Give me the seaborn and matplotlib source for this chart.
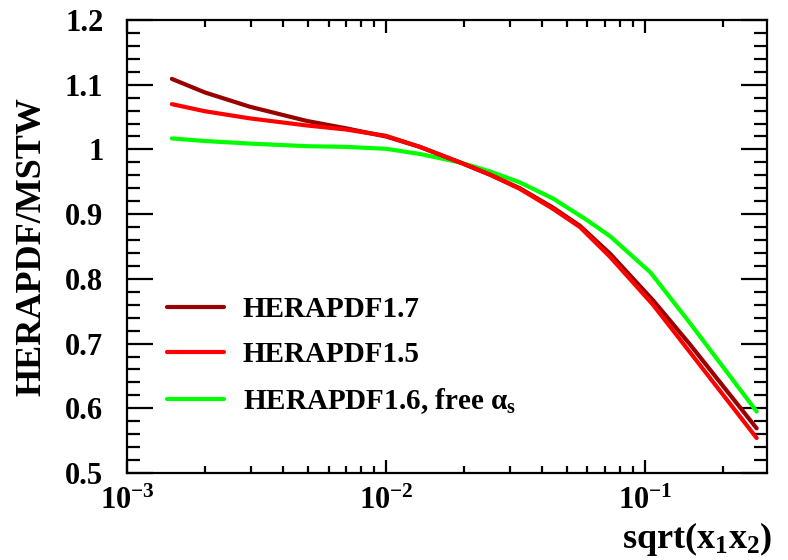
import matplotlib
matplotlib.use("Agg")
import matplotlib.pyplot as plt
import matplotlib.ticker as mticker
import numpy as np
import pandas as pd
import seaborn as sns

## values
x_h17 = [0.00149, 0.0020, 0.00298, 0.00495, 0.00694, 0.0100, 0.0135, 0.0193,
         0.0252, 0.0329, 0.0442, 0.0561, 0.0733, 0.1074, 0.149, 0.270]
y_h17 = [1.109, 1.088, 1.066, 1.044, 1.033, 1.020, 1.004, 0.980,
         0.961, 0.940, 0.910, 0.882, 0.839, 0.767, 0.699, 0.569]

x_h15 = [0.00149, 0.0020, 0.00298, 0.00495, 0.00694, 0.0100, 0.0135, 0.0193,
         0.0252, 0.0329, 0.0442, 0.0561, 0.0733, 0.1074, 0.149, 0.270]
y_h15 = [1.070, 1.059, 1.048, 1.037, 1.031, 1.021, 1.004, 0.980,
         0.961, 0.939, 0.908, 0.880, 0.834, 0.760, 0.687, 0.554]

x_h16 = [0.00149, 0.0020, 0.00298, 0.00495, 0.00694, 0.0100, 0.0135, 0.0193,
         0.0252, 0.0329, 0.0442, 0.0586, 0.0733, 0.105, 0.149, 0.270]
y_h16 = [1.017, 1.013, 1.009, 1.005, 1.004, 1.001, 0.993, 0.980,
         0.966, 0.949, 0.924, 0.893, 0.866, 0.810, 0.732, 0.595]

labels = ["HERAPDF1.7", "HERAPDF1.5", r"HERAPDF1.6, free $\alpha_s$"]
colors = ["#990000", "#ff0000", "#00ff00"]

df = pd.concat([
    pd.DataFrame({"x": x_h17, "y": y_h17, "fit": labels[0]}),
    pd.DataFrame({"x": x_h15, "y": y_h15, "fit": labels[1]}),
    pd.DataFrame({"x": x_h16, "y": y_h16, "fit": labels[2]}),
])

sns.set_style("ticks")
plt.rcParams["font.family"] = ["Liberation Serif", "DejaVu Serif"]
plt.rcParams["font.weight"] = "bold"
plt.rcParams["mathtext.fontset"] = "custom"
plt.rcParams["mathtext.rm"] = "Liberation Serif:bold"
plt.rcParams["mathtext.it"] = "Liberation Serif:bold"
plt.rcParams["mathtext.bf"] = "Liberation Serif:bold"
for k in ["text.color", "axes.labelcolor", "xtick.color", "ytick.color",
          "axes.edgecolor", "xtick.labelcolor", "ytick.labelcolor"]:
    plt.rcParams[k] = "black"

fig = plt.figure(figsize=(7.88, 5.6), dpi=100)
ax = fig.add_axes([127 / 788, 87 / 560, 640 / 788, 453 / 560])

sns.lineplot(data=df, x="x", y="y", hue="fit", hue_order=labels,
             palette=colors, linewidth=3, sort=True, ax=ax, legend=False)
# green goes under the red ones
ax.lines[2].set_zorder(1.5)
ax.lines[0].set_zorder(2.1)
ax.lines[1].set_zorder(2.2)
for ln in ax.lines:
    ln.set_solid_joinstyle("round")

ax.set_xscale("log")
ax.set_xlim(1e-3, 0.296)
ax.set_ylim(0.5, 1.2)
ax.set_xlabel("")
ax.set_ylabel("")

ax.xaxis.set_major_locator(mticker.LogLocator(base=10))
ax.xaxis.set_minor_locator(mticker.LogLocator(base=10, subs=np.arange(2, 10)))
ax.xaxis.set_minor_formatter(mticker.NullFormatter())
ax.xaxis.set_major_formatter(mticker.LogFormatterMathtext())
ax.yaxis.set_major_locator(mticker.MultipleLocator(0.1))
ax.yaxis.set_minor_locator(mticker.MultipleLocator(0.02))
ax.yaxis.set_major_formatter(mticker.FuncFormatter(lambda v, p: f"{v:g}"))

for s in ax.spines.values():
    s.set_linewidth(1.6)
    s.set_visible(True)
    s.set_color("black")

ax.tick_params(axis="both", which="both", direction="in", top=True, right=True,
               width=1.6, colors="black")
ax.tick_params(axis="y", which="major", length=19, pad=17, labelsize=22)
ax.tick_params(axis="y", which="minor", length=9.5)
ax.tick_params(axis="x", which="major", length=9.5, pad=10, labelsize=22)
ax.tick_params(axis="x", which="minor", length=5)

fig.text(32 / 788, 0.56, "HERAPDF/MSTW", rotation=90, fontsize=26,
         fontweight="bold", ha="center", va="center", color="black")
fig.text(772 / 788, 1 - 548 / 560, "sqrt(x$_1$x$_2$)", fontsize=26,
         fontweight="bold", ha="right", va="baseline", color="black")

handles = [plt.Line2D([], [], color=c, linewidth=3) for c in colors]
ax.legend(handles, labels, loc="upper left", bbox_to_anchor=(0.0625, 0.391),
          frameon=False, handlelength=1.95, handletextpad=0.65,
          labelspacing=0.62, borderpad=0, borderaxespad=0,
          prop={"family": "Liberation Serif", "weight": "bold", "size": 21})

fig.savefig("out.png", dpi=100)
